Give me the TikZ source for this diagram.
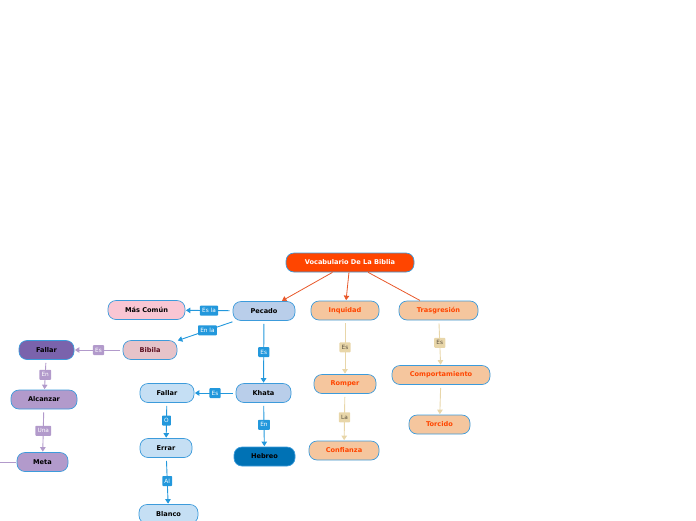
\documentclass[tikz,border=0pt]{standalone}
\usepackage{fontspec}
\setmainfont{DejaVu Sans}
\usetikzlibrary{arrows.meta,positioning}
\definecolor{rimblue}{HTML}{3C9BDB}
\definecolor{linkblue}{HTML}{2398DC}
\definecolor{linkpurple}{HTML}{B29ACB}
\definecolor{linktan}{HTML}{E8D6A9}
\definecolor{linkred}{HTML}{E8582A}
\definecolor{rootred}{HTML}{FF4500}
\definecolor{steelfill}{HTML}{B9CEEA}
\definecolor{skyfill}{HTML}{C5DFF4}
\definecolor{navyfill}{HTML}{0072B5}
\definecolor{pinkfill}{HTML}{F9C6D3}
\definecolor{rosefill}{HTML}{E6C3C9}
\definecolor{rosetext}{HTML}{5C0F1F}
\definecolor{violetfill}{HTML}{7A63AC}
\definecolor{lilacfill}{HTML}{B29ACB}
\definecolor{peachfill}{HTML}{F5C69E}
\definecolor{tantext}{HTML}{5A5040}

\begin{document}
\begin{tikzpicture}[
  x=1pt, y=-1pt,
  font=\fontsize{6.6}{7.5}\selectfont\bfseries,
  topic/.style={draw=rimblue, line width=0.7pt, rounded corners=8pt,
    minimum height=19pt, inner sep=1pt},
  steel/.style={topic, fill=steelfill},
  sky/.style={topic, fill=skyfill},
  peach/.style={topic, fill=peachfill, text=rootred},
  lilac/.style={topic, fill=lilacfill},
  tag/.style={font=\fontsize{5.8}{6.5}\selectfont, inner sep=2.2pt,
    rounded corners=0.8pt, minimum height=10pt},
  bluetag/.style={tag, fill=linkblue, text=white},
  purpletag/.style={tag, fill=linkpurple, text=white},
  tantag/.style={tag, fill=linktan, text=tantext},
  link/.style={line width=0.9pt, shorten <=3pt, shorten >=0.5pt,
    -{Triangle[width=5.5pt,length=4.5pt]}},
  bluelink/.style={link, draw=linkblue},
  purplelink/.style={link, draw=linkpurple},
  tanlink/.style={link, draw=linktan},
  rootlink/.style={link, draw=linkred, line width=0.8pt, shorten <=0pt}
]
\useasboundingbox (0,0) rectangle (696,520);

% root
\node[topic, fill=rootred, text=white, minimum width=128pt] (vocab) at (350,262.5) {Vocabulario De La Biblia};

% blue branch
\node[steel, minimum width=62pt] (pecado) at (264,311) {Pecado};
\node[topic, fill=pinkfill, minimum width=77pt] (comun) at (146.5,310) {Más Común};
\node[topic, fill=rosefill, text=rosetext, minimum width=54pt] (bibila) at (150,350) {Bibila};
\node[steel, minimum width=55pt] (khata) at (263.5,393) {Khata};
\node[topic, fill=navyfill, minimum width=61pt] (hebreo) at (264.5,456.5) {Hebreo};
\node[sky, minimum width=54pt] (fallarb) at (167,393) {Fallar};
\node[sky, minimum width=52pt] (errar) at (166,448) {Errar};
\node[sky, minimum width=59pt] (blanco) at (168.5,514) {Blanco};

% purple branch
\node[topic, fill=violetfill, minimum width=55pt] (fallarp) at (46.5,350) {Fallar};
\node[lilac, minimum width=66pt] (alcanzar) at (44,399.5) {Alcanzar};
\node[lilac, minimum width=51pt] (meta) at (42.5,462) {Meta};
\coordinate (offleft) at (0,462);

% peach branch
\node[peach, minimum width=68pt] (inquidad) at (345,310.5) {Inquidad};
\node[peach, minimum width=62pt] (romper) at (345,384) {Romper};
\node[peach, minimum width=70pt] (confianza) at (344,450.5) {Confianza};
\node[peach, minimum width=79pt] (trasgresion) at (438.5,310.5) {Trasgresión};
\node[peach, minimum width=98pt] (comport) at (441,375) {Comportamiento};
\node[peach, minimum width=61pt] (torcido) at (439.5,424.5) {Torcido};

% connectors
\draw[rootlink] (vocab) -- (pecado);
\draw[rootlink] (vocab) -- (inquidad);
\draw[rootlink, -] (vocab) -- (trasgresion);

\draw[bluelink] (pecado) -- node[bluetag] {Es la} (comun);
\draw[bluelink] (pecado) -- node[bluetag, pos=0.48] {En la} (bibila);
\draw[bluelink] (pecado) -- node[bluetag] {Es} (khata);
\draw[bluelink] (khata) -- node[bluetag] {Es} (fallarb);
\draw[bluelink] (khata) -- node[bluetag] {En} (hebreo);
\draw[bluelink] (fallarb) -- node[bluetag] {O} (errar);
\draw[bluelink] (errar) -- node[bluetag] {Al} (blanco);

\draw[purplelink] (bibila) -- node[purpletag] {Es} (fallarp);
\draw[purplelink] (fallarp) -- node[purpletag] {En} (alcanzar);
\draw[purplelink] (alcanzar) -- node[purpletag] {Una} (meta);
\draw[purplelink, -, shorten <=0pt] (offleft) -- (meta);

\draw[tanlink] (inquidad) -- node[tantag] {Es} (romper);
\draw[tanlink] (romper) -- node[tantag] {La} (confianza);
\draw[tanlink] (trasgresion) -- node[tantag] {Es} (comport);
\draw[tanlink] (comport) -- (torcido);

\end{tikzpicture}
\end{document}
